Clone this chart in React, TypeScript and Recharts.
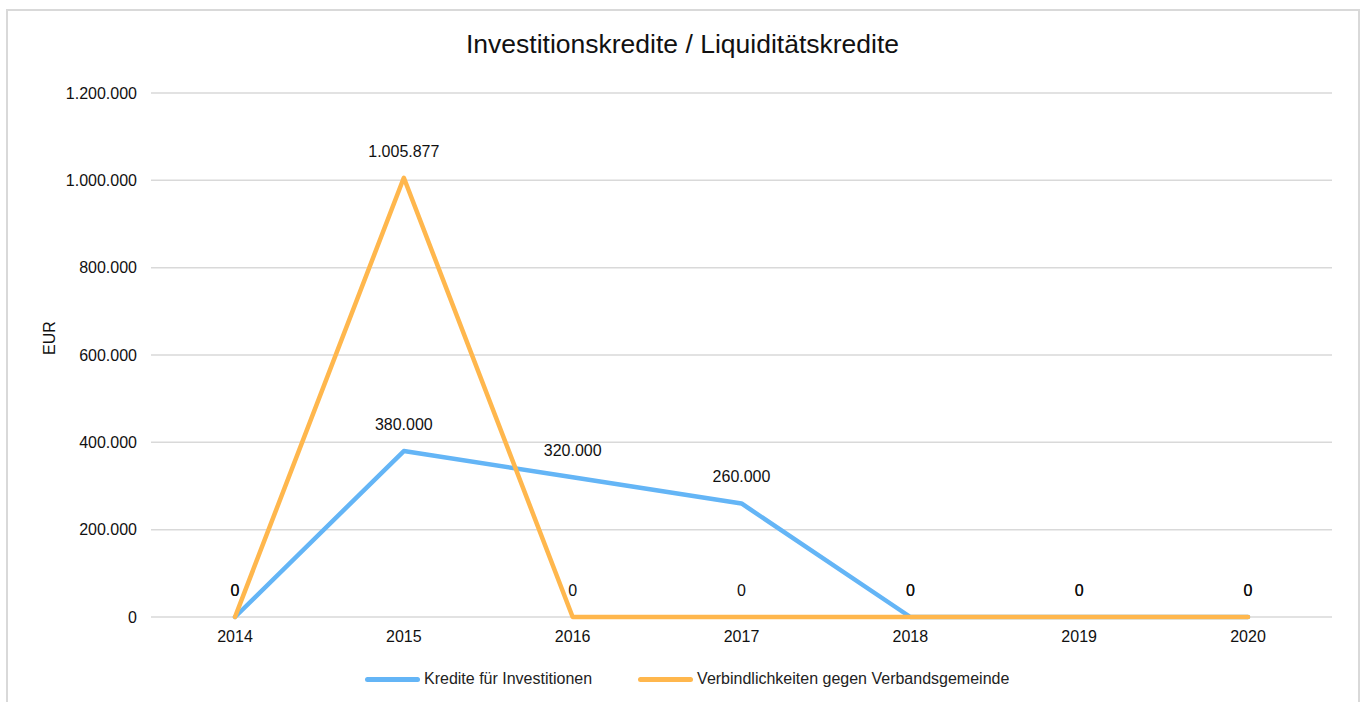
import { LineChart, Line, XAxis, YAxis, CartesianGrid, Legend, LabelList } from "recharts";

const years = ["2014", "2015", "2016", "2017", "2018", "2019", "2020"];
const investKredite = [0, 380000, 320000, 260000, 0, 0, 0];
const verbandsgemeinde = [0, 1005877, 0, 0, 0, 0, 0];
const yTicks = [0, 200000, 400000, 600000, 800000, 1000000, 1200000];

const BLUE = "#64B5F6";
const ORANGE = "#FFB74D";
const FONT = "'Liberation Sans', Arial, sans-serif";

const data = years.map((y, i) => ({ year: y, invest: investKredite[i], verband: verbandsgemeinde[i] }));

const fmt = (v: number | string) => String(v).replace(/\B(?=(\d{3})+(?!\d))/g, ".");

// eslint-disable-next-line @typescript-eslint/no-explicit-any
const renderLegend = (props: any) => (
  <div style={{ display: "flex", gap: 46, marginLeft: 365, fontFamily: FONT, fontSize: 16, color: "#222", height: 18 }}>
    {/* eslint-disable-next-line @typescript-eslint/no-explicit-any */}
    {props.payload.map((p: any) => (
      <div key={p.value} style={{ display: "flex", alignItems: "center", whiteSpace: "nowrap" }}>
        <span style={{ display: "inline-block", width: 55, height: 5, borderRadius: 3, background: p.color, marginRight: 4 }} />
        {p.value}
      </div>
    ))}
  </div>
);

export default function App() {
  return (
    <div style={{ position: "absolute", left: 0, top: 0, width: 1365, height: 702, overflow: "hidden", background: "#fff" }}>
      <div style={{ position: "absolute", left: 6, top: 9, width: 1350, height: 720, border: "2px solid #d9d9d9" }} />
      <div style={{ position: "absolute", left: 0, top: 29, width: 1365, textAlign: "center", fontFamily: FONT, fontSize: 26.5, color: "#111" }}>
        Investitionskredite / Liquiditätskredite
      </div>
      <div style={{ position: "absolute", left: 0, top: 0 }}>
        <LineChart width={1365} height={702} data={data} margin={{ top: 93, right: 33, bottom: 0, left: 0 }}>
          <CartesianGrid vertical={false} stroke="#d9d9d9" strokeWidth={1.5} />
          <XAxis
            dataKey="year"
            axisLine={false}
            tickLine={false}
            tickSize={0}
            tickMargin={14}
            padding={{ left: 84, right: 84 }}
            height={67}
            tick={{ fill: "#111", fontSize: 16, fontFamily: FONT }}
          />
          <YAxis
            domain={[0, 1200000]}
            ticks={yTicks}
            width={151}
            axisLine={false}
            tickLine={false}
            tickSize={0}
            tickMargin={14}
            tickFormatter={fmt}
            tick={{ fill: "#111", fontSize: 16, fontFamily: FONT }}
            label={{ value: "EUR", angle: -90, position: "insideLeft", offset: 49, style: { fill: "#111", fontSize: 16, fontFamily: FONT } }}
          />
          <Legend verticalAlign="bottom" content={renderLegend} wrapperStyle={{ bottom: 14 }} />
          <Line
            name="Kredite für Investitionen"
            dataKey="invest"
            stroke={BLUE}
            strokeWidth={4.5}
            strokeLinecap="round"
            strokeLinejoin="round"
            dot={false}
            isAnimationActive={false}
          >
            <LabelList dataKey="invest" position="top" offset={21} formatter={fmt} style={{ fill: "#111", fontSize: 16, fontFamily: FONT }} />
          </Line>
          <Line
            name="Verbindlichkeiten gegen Verbandsgemeinde"
            dataKey="verband"
            stroke={ORANGE}
            strokeWidth={4.5}
            strokeLinecap="round"
            strokeLinejoin="round"
            dot={false}
            isAnimationActive={false}
          >
            <LabelList dataKey="verband" position="top" offset={21} formatter={fmt} style={{ fill: "#111", fontSize: 16, fontFamily: FONT }} />
          </Line>
        </LineChart>
      </div>
    </div>
  );
}
